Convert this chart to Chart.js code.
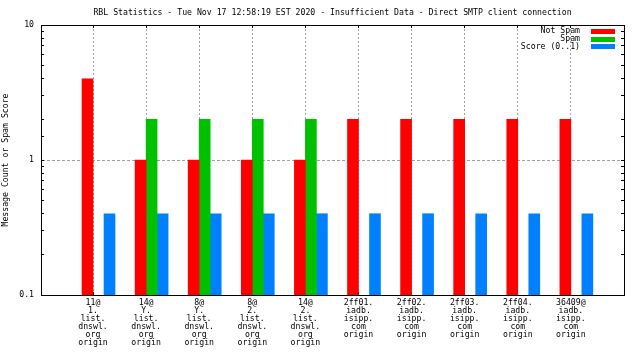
<!DOCTYPE html>
<html>
<head>
<meta charset="utf-8">
<script src="https://cdn.jsdelivr.net/npm/chart.js@4/dist/chart.umd.min.js"></script>
<style>
  html, body { margin: 0; padding: 0; background: #ffffff; }
  #wrap { width: 640px; height: 360px; position: relative; }
</style>
</head>
<body>
<div id="wrap"><canvas id="c"></canvas></div>
<script>
const titleText = 'RBL Statistics - Tue Nov 17 12:58:19 EST 2020 - Insufficient Data - Direct SMTP client connection';
const yAxisTitle = 'Message Count or Spam Score';
const categories = [
  ['11@', '1.', 'list.', 'dnswl.', 'org', 'origin'],
  ['14@', 'Y.', 'list.', 'dnswl.', 'org', 'origin'],
  ['8@', 'Y.', 'list.', 'dnswl.', 'org', 'origin'],
  ['8@', '2.', 'list.', 'dnswl.', 'org', 'origin'],
  ['14@', '2.', 'list.', 'dnswl.', 'org', 'origin'],
  ['2ff01.', 'iadb.', 'isipp.', 'com', 'origin'],
  ['2ff02.', 'iadb.', 'isipp.', 'com', 'origin'],
  ['2ff03.', 'iadb.', 'isipp.', 'com', 'origin'],
  ['2ff04.', 'iadb.', 'isipp.', 'com', 'origin'],
  ['36409@', 'iadb.', 'isipp.', 'com', 'origin']
];
const seriesLabels = ['Not Spam', 'Spam', 'Score (0..1)'];
const notSpam = [4, 1, 1, 1, 1, 2, 2, 2, 2, 2];
const spam = [null, 2, 2, 2, 2, null, null, null, null, null];
const score = [0.4, 0.4, 0.4, 0.4, 0.4, 0.4, 0.4, 0.4, 0.4, 0.4];
const yTickLabels = ['0.1', '1', '10'];

const FONT = '"DejaVu Sans Mono", monospace';
const FS = 8.2;
const BAR_SHIFT = 0.1036;   // gnuplot places tic/grid at the red/green bar boundary
const X_MIN = -1.083, X_MAX = 9.897;

function toPoints(arr) { return arr.map((v, i) => ({ x: i, y: v })); }
function categoryTicks(axis) { axis.ticks = categories.map((c, i) => ({ value: i - BAR_SHIFT })); }

const insideLegend = {
  id: 'insideLegend',
  afterDraw(chart, args, o) {
    const { ctx, chartArea } = chart;
    ctx.save();
    ctx.font = FS + 'px ' + FONT;
    ctx.textAlign = 'right';
    ctx.textBaseline = 'middle';
    chart.data.datasets.forEach((ds, i) => {
      const y = chartArea.top + o.top + i * o.rowHeight;
      const boxRight = chartArea.right - o.right;
      ctx.fillStyle = ds.backgroundColor;
      ctx.fillRect(boxRight - o.boxWidth, Math.round(y - o.boxHeight / 2), o.boxWidth, o.boxHeight);
      ctx.fillStyle = '#000';
      ctx.fillText(ds.label, boxRight - o.boxWidth - o.gap, y);
    });
    ctx.restore();
  }
};

Chart.defaults.color = '#000';
Chart.defaults.font.family = FONT;
Chart.defaults.font.size = FS;

new Chart(document.getElementById('c'), {
  type: 'bar',
  data: {
    datasets: [
      { label: seriesLabels[0], data: toPoints(notSpam), backgroundColor: '#ff0000', borderWidth: 0 },
      { label: seriesLabels[1], data: toPoints(spam), backgroundColor: '#00c000', borderWidth: 0 },
      { label: seriesLabels[2], data: toPoints(score), backgroundColor: '#0080ff', borderWidth: 0 }
    ]
  },
  options: {
    responsive: true,
    maintainAspectRatio: false,
    animation: false,
    devicePixelRatio: 1,
    barThickness: 11,
    layout: { padding: 0 },
    plugins: {
      legend: { display: false },
      tooltip: { enabled: false },
      title: {
        display: true,
        text: titleText,
        fullSize: false,
        color: '#000',
        font: { family: FONT, size: FS, weight: 'normal', lineHeight: 1.2 },
        padding: { top: 8, bottom: 7.16 }
      },
      insideLegend: { top: 6.3, rowHeight: 7.8, right: 9, boxWidth: 24, boxHeight: 5, gap: 11 }
    },
    scales: {
      x: {
        type: 'linear',
        position: 'bottom',
        min: X_MIN,
        max: X_MAX,
        offset: false,
        afterBuildTicks: categoryTicks,
        afterFit: (axis) => { axis.height = 65; },
        ticks: {
          autoSkip: false,
          maxRotation: 0,
          minRotation: 0,
          padding: 7,
          font: { family: FONT, size: FS, lineHeight: 0.976 },
          callback: (v, i) => categories[i]
        },
        grid: {
          display: true,
          offset: false,
          drawTicks: true,
          tickLength: -3,
          tickColor: '#000',
          drawOnChartArea: true,
          color: '#a0a0a0',
          lineWidth: 1
        },
        border: { display: true, color: '#000', width: 1, dash: [2, 2] }
      },
      xTop: {
        type: 'linear',
        position: 'top',
        min: X_MIN,
        max: X_MAX,
        offset: false,
        afterBuildTicks: categoryTicks,
        afterFit: (axis) => { axis.height = 0; },
        ticks: { display: false, autoSkip: false },
        grid: {
          display: true,
          offset: false,
          drawOnChartArea: false,
          drawTicks: true,
          tickLength: -3,
          tickColor: '#000',
          color: 'rgba(0,0,0,0)'
        },
        border: { display: true, color: '#000', width: 1 }
      },
      y: {
        type: 'logarithmic',
        position: 'left',
        min: 0.1,
        max: 10,
        afterFit: (axis) => { axis.width = 41; },
        ticks: {
          autoSkip: false,
          padding: 10,
          font: { family: FONT, size: FS },
          callback: (v) => {
            const l = Math.log10(v);
            const r = Math.round(l);
            return Math.abs(l - r) < 1e-6 ? yTickLabels[r + 1] : '';
          }
        },
        grid: {
          display: true,
          drawOnChartArea: true,
          drawTicks: true,
          tickLength: -3,
          tickColor: '#000',
          color: (ctx) => (ctx.tick && Math.abs(ctx.tick.value - 1) < 1e-9) ? '#a0a0a0' : 'rgba(0,0,0,0)'
        },
        border: { display: true, color: '#000', width: 1, dash: [3, 2] },
        title: {
          display: true,
          text: yAxisTitle,
          color: '#000',
          font: { family: FONT, size: FS, lineHeight: 1.2 },
          padding: { top: 1, bottom: 0 }
        }
      },
      yRight: {
        type: 'logarithmic',
        position: 'right',
        min: 0.1,
        max: 10,
        afterFit: (axis) => { axis.width = 16; },
        ticks: { display: false, autoSkip: false },
        grid: {
          display: true,
          drawOnChartArea: false,
          drawTicks: true,
          tickLength: -3,
          tickColor: '#000',
          color: 'rgba(0,0,0,0)'
        },
        border: { display: true, color: '#000', width: 1 }
      }
    }
  },
  plugins: [insideLegend]
});
</script>
</body>
</html>
